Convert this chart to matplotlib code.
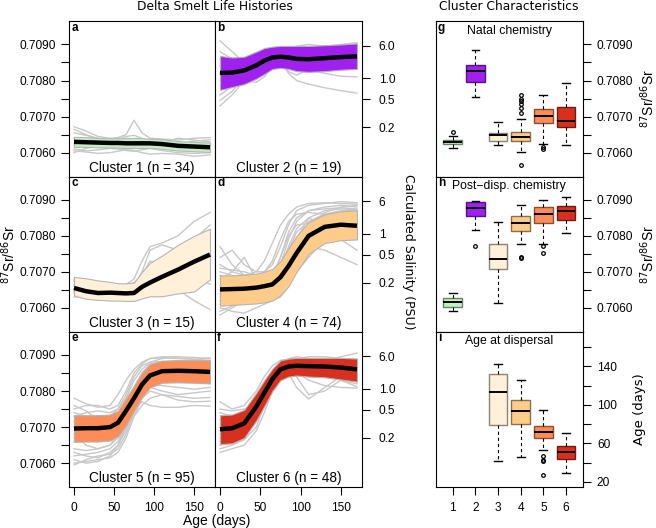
import numpy as np
import matplotlib
matplotlib.use('Agg')
import matplotlib.pyplot as plt
from matplotlib.colors import to_rgb

plt.rcParams['font.family'] = ['Liberation Sans', 'DejaVu Sans']

days = [0, 15, 30, 45, 55, 65, 75, 85, 95, 110, 130, 150, 170]

# cluster mean, lower and upper band (87Sr/86Sr)
mean1 = [0.70630, 0.70629, 0.70628, 0.70627, 0.70627, 0.70626, 0.70626, 0.70626, 0.70626, 0.70624, 0.70619, 0.70617, 0.70615]
lo1 = [0.70616, 0.70616, 0.70615, 0.70614, 0.70614, 0.70613, 0.70613, 0.70613, 0.70613, 0.70611, 0.70606, 0.70604, 0.70602]
hi1 = [0.70644, 0.70643, 0.70641, 0.70640, 0.70640, 0.70640, 0.70641, 0.70640, 0.70639, 0.70637, 0.70632, 0.70630, 0.70628]

mean2 = [0.70821, 0.70822, 0.70828, 0.70842, 0.70855, 0.70864, 0.70866, 0.70864, 0.70860, 0.70859, 0.70862, 0.70865, 0.70867]
lo2 = [0.70774, 0.70782, 0.70790, 0.70805, 0.70818, 0.70832, 0.70835, 0.70832, 0.70826, 0.70824, 0.70826, 0.70830, 0.70832]
hi2 = [0.70868, 0.70864, 0.70866, 0.70880, 0.70890, 0.70894, 0.70896, 0.70896, 0.70896, 0.70896, 0.70898, 0.70900, 0.70903]

mean3 = [0.70655, 0.70646, 0.70641, 0.70642, 0.70641, 0.70640, 0.70641, 0.70658, 0.70670, 0.70686, 0.70706, 0.70728, 0.70748]
lo3 = [0.70634, 0.70625, 0.70622, 0.70620, 0.70620, 0.70619, 0.70619, 0.70626, 0.70632, 0.70632, 0.70640, 0.70645, 0.70679]
hi3 = [0.70686, 0.70682, 0.70676, 0.70672, 0.70668, 0.70668, 0.70670, 0.70700, 0.70725, 0.70745, 0.70775, 0.70800, 0.70820]

mean4 = [0.70651, 0.70652, 0.70653, 0.70656, 0.70660, 0.70665, 0.70685, 0.70716, 0.70752, 0.70800, 0.70825, 0.70831, 0.70828]
lo4 = [0.70606, 0.70608, 0.70610, 0.70612, 0.70615, 0.70620, 0.70635, 0.70660, 0.70700, 0.70750, 0.70780, 0.70788, 0.70790]
hi4 = [0.70690, 0.70690, 0.70692, 0.70695, 0.70700, 0.70708, 0.70730, 0.70765, 0.70800, 0.70838, 0.70860, 0.70868, 0.70871]

mean5 = [0.70696, 0.70697, 0.70697, 0.70700, 0.70712, 0.70745, 0.70780, 0.70818, 0.70843, 0.70855, 0.70856, 0.70855, 0.70853]
lo5 = [0.70659, 0.70660, 0.70660, 0.70663, 0.70675, 0.70705, 0.70745, 0.70783, 0.70810, 0.70823, 0.70824, 0.70823, 0.70821]
hi5 = [0.70733, 0.70733, 0.70733, 0.70735, 0.70745, 0.70780, 0.70815, 0.70850, 0.70875, 0.70884, 0.70886, 0.70886, 0.70886]

mean6 = [0.70694, 0.70697, 0.70710, 0.70757, 0.70795, 0.70833, 0.70860, 0.70868, 0.70870, 0.70869, 0.70868, 0.70865, 0.70860]
lo6 = [0.70653, 0.70655, 0.70670, 0.70718, 0.70758, 0.70800, 0.70830, 0.70840, 0.70843, 0.70840, 0.70838, 0.70832, 0.70826]
hi6 = [0.70733, 0.70735, 0.70748, 0.70795, 0.70830, 0.70862, 0.70885, 0.70890, 0.70892, 0.70892, 0.70892, 0.70892, 0.70890]

# a selection of individual fish (grey lines)
fish1 = [
    [0.70672, 0.70660, 0.70645, 0.70640, 0.70642, 0.70650, 0.70690, 0.70655, 0.70640, 0.70638, 0.70635, 0.70640, 0.70642],
    [0.70610, 0.70605, 0.70608, 0.70612, 0.70610, 0.70606, 0.70604, 0.70608, 0.70612, 0.70606, 0.70600, 0.70598, 0.70600],
    [0.70655, 0.70648, 0.70640, 0.70635, 0.70638, 0.70645, 0.70648, 0.70640, 0.70632, 0.70628, 0.70640, 0.70635, 0.70630],
    [0.70600, 0.70612, 0.70618, 0.70620, 0.70616, 0.70610, 0.70612, 0.70618, 0.70620, 0.70615, 0.70610, 0.70606, 0.70608],
    [0.70640, 0.70635, 0.70632, 0.70630, 0.70628, 0.70630, 0.70634, 0.70632, 0.70626, 0.70620, 0.70625, 0.70632, 0.70636],
    [0.70620, 0.70625, 0.70622, 0.70620, 0.70618, 0.70618, 0.70620, 0.70622, 0.70618, 0.70612, 0.70606, 0.70608, 0.70610],
    [0.70665, 0.70650, 0.70638, 0.70628, 0.70632, 0.70640, 0.70638, 0.70630, 0.70628, 0.70634, 0.70628, 0.70622, 0.70625],
    [0.70605, 0.70602, 0.70598, 0.70600, 0.70604, 0.70608, 0.70606, 0.70600, 0.70596, 0.70598, 0.70596, 0.70590, 0.70594],
]
fish2 = [
    [0.70910, 0.70880, 0.70850, 0.70860, 0.70885, 0.70890, 0.70880, 0.70870, 0.70885, 0.70890, 0.70880, 0.70870, 0.70875],
    [0.70730, 0.70760, 0.70800, 0.70830, 0.70850, 0.70862, 0.70868, 0.70860, 0.70850, 0.70840, 0.70835, 0.70840, 0.70838],
    [0.70745, 0.70770, 0.70810, 0.70840, 0.70860, 0.70870, 0.70858, 0.70820, 0.70800, 0.70790, 0.70780, 0.70772, 0.70765],
    [0.70880, 0.70860, 0.70840, 0.70855, 0.70870, 0.70875, 0.70880, 0.70890, 0.70895, 0.70890, 0.70895, 0.70900, 0.70905],
    [0.70800, 0.70790, 0.70800, 0.70830, 0.70860, 0.70880, 0.70885, 0.70880, 0.70850, 0.70830, 0.70820, 0.70812, 0.70810],
    [0.70860, 0.70850, 0.70830, 0.70820, 0.70825, 0.70840, 0.70860, 0.70880, 0.70895, 0.70900, 0.70895, 0.70880, 0.70880],
    [0.70760, 0.70785, 0.70825, 0.70855, 0.70870, 0.70872, 0.70850, 0.70825, 0.70815, 0.70830, 0.70850, 0.70855, 0.70850],
    [0.70840, 0.70830, 0.70845, 0.70865, 0.70880, 0.70885, 0.70875, 0.70860, 0.70850, 0.70845, 0.70840, 0.70845, 0.70850],
    [0.70820, 0.70810, 0.70800, 0.70795, 0.70810, 0.70840, 0.70860, 0.70865, 0.70862, 0.70870, 0.70875, 0.70880, 0.70880],
]
fish3 = [
    [0.70680, 0.70670, 0.70660, 0.70655, 0.70660, 0.70665, 0.70680, 0.70730, 0.70770, 0.70780, 0.70800, 0.70840, 0.70865],
    [0.70640, 0.70635, 0.70630, 0.70632, 0.70635, 0.70640, 0.70650, 0.70700, 0.70760, 0.70775, 0.70760, 0.70790, 0.70830],
    [0.70660, 0.70650, 0.70640, 0.70635, 0.70630, 0.70628, 0.70630, 0.70640, 0.70660, 0.70700, 0.70740, 0.70770, 0.70785],
    [0.70665, 0.70660, 0.70650, 0.70640, 0.70638, 0.70635, 0.70636, 0.70645, 0.70650, 0.70660, 0.70650, 0.70620, 0.70595],
    [0.70630, 0.70632, 0.70636, 0.70640, 0.70645, 0.70650, 0.70660, 0.70670, 0.70690, 0.70720, 0.70730, 0.70710, 0.70680],
    [0.70675, 0.70665, 0.70652, 0.70645, 0.70650, 0.70662, 0.70670, 0.70690, 0.70730, 0.70720, 0.70700, 0.70690, 0.70665],
    [0.70645, 0.70640, 0.70638, 0.70640, 0.70642, 0.70645, 0.70648, 0.70650, 0.70660, 0.70670, 0.70690, 0.70720, 0.70760],
]
fish4 = [
    [0.70770, 0.70720, 0.70690, 0.70700, 0.70730, 0.70780, 0.70830, 0.70860, 0.70880, 0.70890, 0.70892, 0.70890, 0.70888],
    [0.70580, 0.70600, 0.70620, 0.70625, 0.70628, 0.70630, 0.70640, 0.70680, 0.70740, 0.70790, 0.70810, 0.70800, 0.70795],
    [0.70700, 0.70690, 0.70680, 0.70670, 0.70668, 0.70680, 0.70720, 0.70790, 0.70840, 0.70870, 0.70880, 0.70885, 0.70880],
    [0.70640, 0.70645, 0.70650, 0.70660, 0.70680, 0.70700, 0.70720, 0.70740, 0.70760, 0.70770, 0.70760, 0.70740, 0.70720],
    [0.70620, 0.70630, 0.70640, 0.70650, 0.70650, 0.70660, 0.70700, 0.70760, 0.70810, 0.70840, 0.70860, 0.70870, 0.70870],
    [0.70680, 0.70700, 0.70740, 0.70680, 0.70650, 0.70640, 0.70650, 0.70670, 0.70700, 0.70740, 0.70790, 0.70810, 0.70815],
    [0.70600, 0.70590, 0.70585, 0.70600, 0.70610, 0.70620, 0.70630, 0.70660, 0.70720, 0.70800, 0.70850, 0.70860, 0.70860],
    [0.70660, 0.70665, 0.70670, 0.70668, 0.70665, 0.70670, 0.70690, 0.70740, 0.70790, 0.70820, 0.70840, 0.70850, 0.70855],
    [0.70630, 0.70625, 0.70620, 0.70625, 0.70640, 0.70660, 0.70710, 0.70770, 0.70820, 0.70850, 0.70830, 0.70800, 0.70790],
    [0.70720, 0.70700, 0.70690, 0.70680, 0.70680, 0.70690, 0.70740, 0.70810, 0.70850, 0.70870, 0.70875, 0.70878, 0.70875],
    [0.70740, 0.70760, 0.70720, 0.70700, 0.70700, 0.70720, 0.70770, 0.70830, 0.70870, 0.70885, 0.70890, 0.70895, 0.70892],
    [0.70610, 0.70620, 0.70630, 0.70640, 0.70645, 0.70650, 0.70670, 0.70720, 0.70790, 0.70850, 0.70870, 0.70875, 0.70872],
    [0.70650, 0.70640, 0.70630, 0.70635, 0.70650, 0.70680, 0.70740, 0.70800, 0.70830, 0.70835, 0.70820, 0.70790, 0.70760],
    [0.70690, 0.70680, 0.70660, 0.70655, 0.70660, 0.70670, 0.70680, 0.70710, 0.70770, 0.70830, 0.70865, 0.70880, 0.70885],
    [0.70590, 0.70605, 0.70615, 0.70630, 0.70640, 0.70650, 0.70660, 0.70700, 0.70760, 0.70810, 0.70840, 0.70845, 0.70840],
    [0.70710, 0.70705, 0.70700, 0.70690, 0.70700, 0.70730, 0.70790, 0.70840, 0.70860, 0.70865, 0.70860, 0.70862, 0.70865],
]
fish5 = [
    [0.70780, 0.70765, 0.70755, 0.70760, 0.70790, 0.70830, 0.70860, 0.70880, 0.70890, 0.70895, 0.70895, 0.70893, 0.70890],
    [0.70595, 0.70610, 0.70620, 0.70625, 0.70640, 0.70680, 0.70740, 0.70790, 0.70820, 0.70830, 0.70828, 0.70825, 0.70822],
    [0.70640, 0.70635, 0.70640, 0.70650, 0.70670, 0.70700, 0.70730, 0.70760, 0.70780, 0.70790, 0.70785, 0.70780, 0.70782],
    [0.70730, 0.70740, 0.70745, 0.70740, 0.70750, 0.70790, 0.70840, 0.70870, 0.70880, 0.70882, 0.70878, 0.70875, 0.70880],
    [0.70620, 0.70625, 0.70630, 0.70640, 0.70660, 0.70700, 0.70760, 0.70800, 0.70810, 0.70800, 0.70790, 0.70795, 0.70800],
    [0.70700, 0.70690, 0.70685, 0.70690, 0.70710, 0.70760, 0.70810, 0.70840, 0.70860, 0.70870, 0.70875, 0.70880, 0.70885],
    [0.70610, 0.70600, 0.70605, 0.70620, 0.70650, 0.70700, 0.70750, 0.70770, 0.70760, 0.70755, 0.70755, 0.70760, 0.70758],
    [0.70760, 0.70745, 0.70720, 0.70710, 0.70720, 0.70750, 0.70800, 0.70850, 0.70875, 0.70880, 0.70870, 0.70860, 0.70855],
    [0.70660, 0.70670, 0.70675, 0.70680, 0.70700, 0.70740, 0.70790, 0.70830, 0.70850, 0.70860, 0.70865, 0.70868, 0.70870],
    [0.70680, 0.70650, 0.70640, 0.70650, 0.70680, 0.70730, 0.70770, 0.70800, 0.70820, 0.70815, 0.70810, 0.70805, 0.70810],
    [0.70750, 0.70760, 0.70760, 0.70750, 0.70760, 0.70800, 0.70850, 0.70875, 0.70890, 0.70892, 0.70890, 0.70888, 0.70885],
    [0.70630, 0.70620, 0.70615, 0.70630, 0.70650, 0.70690, 0.70760, 0.70820, 0.70850, 0.70860, 0.70855, 0.70850, 0.70848],
    [0.70670, 0.70680, 0.70690, 0.70700, 0.70720, 0.70760, 0.70810, 0.70850, 0.70870, 0.70875, 0.70870, 0.70872, 0.70875],
    [0.70715, 0.70720, 0.70710, 0.70700, 0.70705, 0.70730, 0.70780, 0.70820, 0.70835, 0.70840, 0.70838, 0.70835, 0.70836],
    [0.70600, 0.70605, 0.70610, 0.70615, 0.70630, 0.70670, 0.70730, 0.70780, 0.70800, 0.70790, 0.70775, 0.70770, 0.70772],
    [0.70740, 0.70730, 0.70725, 0.70730, 0.70750, 0.70780, 0.70830, 0.70860, 0.70880, 0.70890, 0.70892, 0.70888, 0.70892],
]
fish6 = [
    [0.70770, 0.70750, 0.70760, 0.70800, 0.70840, 0.70870, 0.70885, 0.70888, 0.70885, 0.70880, 0.70885, 0.70895, 0.70905],
    [0.70630, 0.70640, 0.70650, 0.70690, 0.70740, 0.70800, 0.70850, 0.70860, 0.70840, 0.70790, 0.70800, 0.70830, 0.70820],
    [0.70700, 0.70710, 0.70730, 0.70780, 0.70820, 0.70850, 0.70860, 0.70850, 0.70810, 0.70778, 0.70810, 0.70840, 0.70845],
    [0.70660, 0.70670, 0.70690, 0.70740, 0.70790, 0.70840, 0.70875, 0.70885, 0.70888, 0.70885, 0.70880, 0.70870, 0.70865],
    [0.70720, 0.70715, 0.70720, 0.70750, 0.70780, 0.70820, 0.70860, 0.70880, 0.70890, 0.70895, 0.70895, 0.70890, 0.70888],
    [0.70640, 0.70650, 0.70665, 0.70700, 0.70760, 0.70820, 0.70850, 0.70860, 0.70865, 0.70860, 0.70850, 0.70830, 0.70812],
    [0.70750, 0.70745, 0.70750, 0.70760, 0.70790, 0.70830, 0.70870, 0.70890, 0.70895, 0.70890, 0.70880, 0.70860, 0.70840],
    [0.70680, 0.70690, 0.70700, 0.70730, 0.70770, 0.70810, 0.70850, 0.70870, 0.70870, 0.70865, 0.70870, 0.70875, 0.70880],
    [0.70690, 0.70700, 0.70720, 0.70770, 0.70810, 0.70850, 0.70870, 0.70880, 0.70885, 0.70887, 0.70885, 0.70885, 0.70883],
    [0.70650, 0.70655, 0.70670, 0.70720, 0.70770, 0.70820, 0.70855, 0.70870, 0.70875, 0.70870, 0.70860, 0.70850, 0.70840],
    [0.70740, 0.70730, 0.70735, 0.70770, 0.70810, 0.70850, 0.70875, 0.70880, 0.70878, 0.70872, 0.70868, 0.70870, 0.70875],
    [0.70670, 0.70680, 0.70700, 0.70750, 0.70800, 0.70845, 0.70865, 0.70862, 0.70850, 0.70830, 0.70815, 0.70810, 0.70808],
]

cluster_n = [34, 19, 15, 74, 95, 48]
colors = ['#C1F0C1', '#A020F0', '#FEF0D9', '#FDCC8A', '#FC8D59', '#D7301F']

# salinity axis (right side of panels b, d, f)
sal_pos = [0.70896, 0.70806, 0.70748, 0.70670]
sal_labels_1 = ['6.0', '1.0', '0.5', '0.2']
sal_labels_2 = ['6', '1', '0.5', '0.2']

# boxplot summaries, clusters 1-6
natal_lo = [0.70612, 0.70754, 0.70620, 0.70602, 0.70624, 0.70620]
natal_q1 = [0.70623, 0.70795, 0.70633, 0.70632, 0.70681, 0.70670]
natal_med = [0.70629, 0.70826, 0.70648, 0.70643, 0.70702, 0.70689]
natal_q3 = [0.70634, 0.70843, 0.70654, 0.70657, 0.70720, 0.70728]
natal_hi = [0.70645, 0.70884, 0.70686, 0.70694, 0.70760, 0.70792]
natal_out = [[0.70657], [], [], [0.70759, 0.70750, 0.70742, 0.70734, 0.70725, 0.70709, 0.70566], [0.70617, 0.70611], []]

post_lo = [0.70592, 0.70815, 0.70612, 0.70777, 0.70777, 0.70809]
post_q1 = [0.70603, 0.70855, 0.70707, 0.70814, 0.70837, 0.70844]
post_med = [0.70617, 0.70877, 0.70735, 0.70836, 0.70861, 0.70868]
post_q3 = [0.70627, 0.70893, 0.70777, 0.70856, 0.70879, 0.70883]
post_hi = [0.70642, 0.70898, 0.70839, 0.70887, 0.70900, 0.70909]
post_out = [[], [0.70772], [], [0.70740, 0.70737], [0.70772, 0.70751], []]

# age at dispersal, clusters 3-6
age_lo = [42.1, 45.6, 53.2, 29.0]
age_q1 = [79.1, 79.8, 66.0, 43.9]
age_med = [113.0, 93.3, 72.2, 51.1]
age_q3 = [132.4, 104.7, 78.1, 57.0]
age_hi = [142.4, 125.5, 94.7, 70.5]
age_out = [[], [], [46.6, 43.2, 41.8, 27.6], []]

means = [mean1, mean2, mean3, mean4, mean5, mean6]
los = [lo1, lo2, lo3, lo4, lo5, lo6]
his = [hi1, hi2, hi3, hi4, hi5, hi6]
fishes = [fish1, fish2, fish3, fish4, fish5, fish6]
letters = 'abcdef'

W, H = 656, 528
fig = plt.figure(figsize=(W / 100, H / 100), dpi=100)

def box(x0, y0, x1, y1):
    return [x0 / W, 1 - y1 / H, (x1 - x0) / W, (y1 - y0) / H]

rows = [(21, 176.5), (176.5, 331.5), (331.5, 487)]
cols = [(69, 215), (215, 362)]
SR_LIM = (0.70534, 0.70965)
sr_major = [0.7060, 0.7070, 0.7080, 0.7090]
sr_minor = [0.7065, 0.7075, 0.7085]

for i in range(6):
    r, c = i // 2, i % 2
    ax = fig.add_axes(box(cols[c][0], rows[r][0], cols[c][1], rows[r][1]))
    for f in fishes[i]:
        ax.plot(days, f, color='#C8C8C8', lw=1.0, zorder=1)
    ax.fill_between(days, los[i], his[i], facecolor=colors[i], edgecolor='#B5B5B5', lw=0.8, zorder=2)
    ax.plot(days, means[i], color='black', lw=3.2, zorder=3, solid_capstyle='butt')
    ax.set_xlim(-6.25, 176.25)
    ax.set_ylim(*SR_LIM)
    ax.text(0.015, 0.995, letters[i], transform=ax.transAxes, ha='left', va='top', fontsize=8.5, fontweight='bold')
    ax.text(0.5, 0.012, f'Cluster {i + 1} (n = {cluster_n[i]})', transform=ax.transAxes, ha='center', va='bottom', fontsize=9.8)
    ax.tick_params(direction='out', length=6, width=0.8, labelsize=8.6)
    if c == 0:
        ax.set_yticks(sr_major)
        ax.set_yticklabels([f'{v:.4f}' for v in sr_major])
        ax.set_yticks(sr_minor, minor=True)
        ax.tick_params(axis='y', which='minor', direction='out', length=6, width=0.8)
    else:
        ax.yaxis.tick_right()
        ax.set_yticks(sal_pos)
        ax.set_yticklabels(sal_labels_2 if r == 1 else sal_labels_1)
        ax.tick_params(axis='y', pad=6)
    if r == 2:
        ax.set_xticks([0, 50, 100, 150])
        ax.tick_params(axis='x', pad=5)
    else:
        ax.set_xticks([])

def draw_boxes(ax, pos, lo, q1, med, q3, hi, out, cols_):
    stats = []
    for k in range(len(pos)):
        stats.append(dict(whislo=lo[k], q1=q1[k], med=med[k], q3=q3[k], whishi=hi[k], fliers=out[k]))
    bp = ax.bxp(stats, positions=pos, widths=0.82, patch_artist=True, capwidths=0.34,
                whiskerprops=dict(linestyle=(0, (3, 2.5)), lw=0.8, color='black'),
                capprops=dict(lw=1.0, color='black'),
                medianprops=dict(lw=1.4, color='black'),
                flierprops=dict(marker='o', markersize=2.6, markerfacecolor='none', markeredgecolor='black', markeredgewidth=0.9))
    for patch, col in zip(bp['boxes'], cols_):
        patch.set_facecolor(col)
        patch.set_edgecolor(tuple(v * 0.55 for v in to_rgb(col)))
        patch.set_linewidth(1.0)

right_titles = ['Natal chemistry', 'Post\u2212disp. chemistry', 'Age at dispersal']
rletters = 'ghi'
rx = (435.7, 583)
for r in range(3):
    ax = fig.add_axes(box(rx[0], rows[r][0], rx[1], rows[r][1]))
    if r == 0:
        draw_boxes(ax, [1, 2, 3, 4, 5, 6], natal_lo, natal_q1, natal_med, natal_q3, natal_hi, natal_out, colors)
    elif r == 1:
        draw_boxes(ax, [1, 2, 3, 4, 5, 6], post_lo, post_q1, post_med, post_q3, post_hi, post_out, colors)
    else:
        draw_boxes(ax, [3, 4, 5, 6], age_lo, age_q1, age_med, age_q3, age_hi, age_out, colors[2:])
    ax.set_xlim(0.25, 6.75)
    ax.yaxis.tick_right()
    ax.yaxis.set_label_position('right')
    ax.tick_params(direction='out', length=6, width=0.8, labelsize=8.6)
    if r < 2:
        ax.set_ylim(*SR_LIM)
        ax.set_yticks(sr_major)
        ax.set_yticklabels([f'{v:.4f}' for v in sr_major])
        ax.set_yticks(sr_minor, minor=True)
        ax.tick_params(axis='y', which='minor', direction='out', length=6, width=0.8)
        ax.set_ylabel(r'$^{87}$Sr/$^{86}$Sr', fontsize=10, labelpad=4)
        ax.set_xticks([])
    else:
        ax.set_ylim(14.8, 176.3)
        ax.set_yticks([20, 60, 100, 140])
        ax.set_yticks([40, 80, 120, 160], minor=True)
        ax.tick_params(axis='y', which='minor', direction='out', length=6, width=0.8)
        ax.set_ylabel('Age (days)', fontsize=9.5, labelpad=12, family='DejaVu Sans')
        ax.set_xticks([1, 2, 3, 4, 5, 6])
        ax.set_xticklabels(['1', '2', '3', '4', '5', '6'])
        ax.tick_params(axis='x', pad=5)
    ax.tick_params(axis='y', pad=4)
    ax.text(0.015, 0.995, rletters[r], transform=ax.transAxes, ha='left', va='top', fontsize=8.5, fontweight='bold')
    ax.text(0.5, 0.975, right_titles[r], transform=ax.transAxes, ha='center', va='top', fontsize=8.8)

fig.text(215 / W, 1 - 7 / H, 'Delta Smelt Life Histories', ha='center', va='center', fontsize=8.8, family='DejaVu Sans')
fig.text(509 / W, 1 - 7 / H, 'Cluster Characteristics', ha='center', va='center', fontsize=8.8, family='DejaVu Sans')
fig.text(217 / W, 1 - 521 / H, 'Age (days)', ha='center', va='center', fontsize=10)
fig.text(9 / W, 1 - 254 / H, r'$^{87}$Sr/$^{86}$Sr', ha='center', va='center', rotation=90, fontsize=10)
fig.text(408 / W, 1 - 252 / H, 'Calculated Salinity (PSU)', ha='center', va='center', rotation=270, fontsize=9, family='DejaVu Sans')

fig.savefig('out.png', dpi=100)
